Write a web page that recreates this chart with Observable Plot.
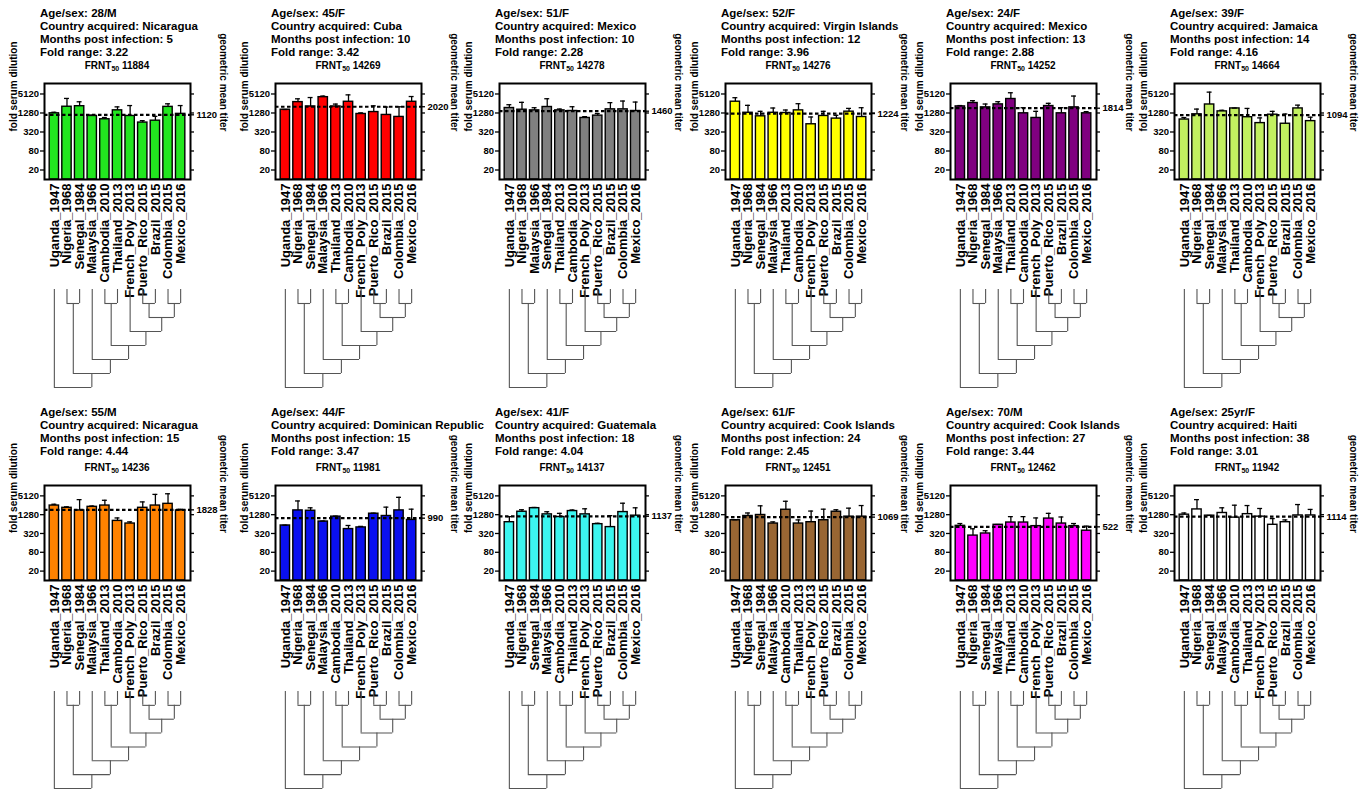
<!DOCTYPE html>
<html><head><meta charset="utf-8">
<script src="https://cdn.jsdelivr.net/npm/d3@7"></script>
<script src="https://cdn.jsdelivr.net/npm/@observablehq/plot@0.6"></script>
<style>
body{margin:0;background:#fff;}
#fig{position:relative;width:1368px;height:795px;overflow:hidden;background:#fff;font-family:"Liberation Sans",Arial,sans-serif;font-weight:bold;color:#000;}
.title{position:absolute;font-size:11.5px;line-height:13px;white-space:nowrap;}
.frnt{position:absolute;font-size:10px;line-height:13px;text-align:center;white-space:nowrap;}
.frnt sub{font-size:7px;vertical-align:-2px;line-height:0;}
.panel{position:absolute;}
.panel svg{overflow:visible;max-width:none;}
</style></head><body><div id="fig"></div>
<script>
// ---------- data ----------
const strainsA = ["Uganda_1947","Nigeria_1968","Senegal_1984","Malaysia_1966","Cambodia_2010","Thailand_2013","French_Poly_2013","Puerto_Rico_2015","Brazil_2015","Colombia_2015","Mexico_2016"];
const strainsB = ["Uganda_1947","Nigeria_1968","Senegal_1984","Malaysia_1966","Thailand_2013","Cambodia_2010","French_Poly_2013","Puerto_Rico_2015","Brazil_2015","Colombia_2015","Mexico_2016"];
const strainsC = ["Uganda_1947","Nigeria_1968","Malaysia_1966","Senegal_1984","Thailand_2013","Cambodia_2010","French_Poly_2013","Puerto_Rico_2015","Brazil_2015","Colombia_2015","Mexico_2016"];
const panelOrders = [strainsA, strainsB, strainsC, strainsB, strainsB, strainsB, strainsB, strainsA, strainsA, strainsA, strainsB, strainsA];

const ageSex = ["28/M","45/F","51/F","52/F","24/F","39/F","55/M","44/F","41/F","61/F","70/M","25yr/F"];
const countryAcquired = ["Nicaragua","Cuba","Mexico","Virgin Islands","Mexico","Jamaica","Nicaragua","Dominican Republic","Guatemala","Cook Islands","Cook Islands","Haiti"];
const monthsPostInfection = [5,10,10,12,13,14,15,15,18,24,27,38];
const foldRange = ["3.22","3.42","2.28","3.96","2.88","4.16","4.44","3.47","4.04","2.45","3.44","3.01"];
const frntId = ["11884","14269","14278","14276","14252","14664","14236","11981","14137","12451","12462","11942"];
const gmtTiter = [1120,2020,1460,1224,1814,1094,1828,990,1137,1069,522,1114];

const meanTiter = [
  [1250,2020,2100,1030,810,1555,1030,636,730,2000,1200],
  [1625,2830,2060,4060,2060,2900,1190,1370,1110,960,2900],
  [1840,1625,1550,1980,1550,1480,890,1055,1670,1670,1480],
  [2915,1300,1005,1300,1280,1550,562,1030,850,1410,956],
  [2070,2650,1930,2400,3550,1250,890,2125,1250,1930,1250],
  [795,1163,2380,1440,1785,940,612,1130,584,1785,707],
  [2510,2125,1750,2280,2510,810,666,2125,2510,2845,1750],
  [577,1755,1710,772,1108,443,500,1376,1162,1755,870],
  [735,1590,2070,1310,1080,1670,1310,636,512,1550,1190],
  [850,1162,1250,666,1840,666,735,850,1590,1108,1108],
  [563,274,320,607,718,718,550,960,666,550,393],
  [1280,1885,1190,1450,1030,1330,1108,607,735,1210,1210]
];
const upperTiter = [
  [1350,3700,2900,1100,920,2000,2200,730,1000,2500,2200],
  [1650,3600,3950,4400,2450,4800,1290,2160,1975,2010,4250],
  [2340,2780,1880,3620,1710,2020,980,1230,2720,3060,2840],
  [3900,2235,1445,1840,1590,2520,956,1445,1080,1790,1880],
  [2200,3140,2460,2915,5600,1880,1445,2590,1880,4400,1410],
  [918,1700,5860,1560,1830,1785,895,1440,1190,2270,940],
  [2760,2280,3880,2420,3700,1006,753,3280,5710,5980,1900],
  [590,3520,2125,800,1150,577,540,1430,2230,4600,1920],
  [1108,1840,2180,1590,1410,1810,1975,680,1190,2980,2125],
  [880,1450,2460,753,3440,870,1670,1920,1840,2070,2510],
  [666,453,393,620,1108,1108,1006,1410,1080,666,550],
  [1450,3880,1210,2125,2575,2510,2020,960,870,2700,1885]
];
const yTicks = [20,80,320,1280,5120];
// phylogeny of the 11 strains, by leaf position
const tree = [0, [[1, 2], [3, [[4, 5], [6, [[7, 8], [9, 10]]]]]]];

const barColors = ["#22e61f","#ff0000","#808080","#ffff00","#800080","#c2f060","#ff8200","#0a10f0","#3cf5f0","#996633","#ff00ff","#ffffff"];

// ---------- layout ----------
const frameLefts = [44, 275, 499, 725, 950, 1174];
const frameW = 146;
const rows = [
  {frameTop: 83, frameH: 96, titleTop: 6.5, frntTop: 58.5, treeTop: 289, treeBottom: 387},
  {frameTop: 485, frameH: 95, titleTop: 405.5, frntTop: 460.5, treeTop: 691, treeBottom: 788}
];
const mL = 44, mR = 50, mT = 5, mB = 125;
const padInner = 0.26, padOuter = 0.41;
const half = padOuter + (1 - padInner) / 2;
const fontFamily = '"Liberation Sans", Arial, sans-serif';

function treeSegments(node) {
  const vert = [], horiz = [];
  function rec(n) {
    if (typeof n === "number") return {x: n, h: 0};
    const [a, b] = n.map(rec);
    const h = Math.max(a.h, b.h) + 1;
    vert.push({x: a.x, y1: a.h, y2: h}, {x: b.x, y1: b.h, y2: h});
    horiz.push({y: h, x1: a.x, x2: b.x});
    return {x: (a.x + b.x) / 2, h};
  }
  const root = rec(node);
  return {vert, horiz, depth: root.h};
}
const segs = treeSegments(tree);

const fig = document.getElementById("fig");

function place(el, left, top) {
  const d = document.createElement("div");
  d.className = "panel";
  d.style.left = left + "px";
  d.style.top = top + "px";
  d.appendChild(el);
  fig.appendChild(d);
}

for (let p = 0; p < 12; p++) {
  const row = rows[Math.floor(p / 6)];
  const fl = frameLefts[p % 6];
  const order = panelOrders[p];
  const data = order.map((s, i) => ({strain: s, value: meanTiter[p][i], upper: upperTiter[p][i]}));
  const gmt = [gmtTiter[p]];

  // titles
  const t = document.createElement("div");
  t.className = "title";
  t.style.left = (fl - 4) + "px";
  t.style.top = row.titleTop + "px";
  t.innerHTML = `Age/sex: ${ageSex[p]}<br>Country acquired: ${countryAcquired[p]}<br>Months post infection: ${monthsPostInfection[p]}<br>Fold range: ${foldRange[p]}`;
  fig.appendChild(t);
  const f = document.createElement("div");
  f.className = "frnt";
  f.style.left = fl + "px";
  f.style.width = frameW + "px";
  f.style.top = row.frntTop + "px";
  f.innerHTML = `FRNT<sub>50</sub> ${frntId[p]}`;
  fig.appendChild(f);

  // bar chart
  const bars = Plot.plot({
    width: mL + frameW + mR,
    height: mT + row.frameH + mB,
    marginLeft: mL, marginRight: mR, marginTop: mT, marginBottom: mB,
    style: {background: "transparent", overflow: "visible", fontFamily, fontWeight: "bold", color: "black"},
    x: {type: "band", domain: order, paddingInner: padInner, paddingOuter: padOuter, round: false, axis: null, label: null},
    y: {type: "log", domain: [10, 11000], axis: null, label: null},
    marks: [
      Plot.barY(data, {x: "strain", y1: 10, y2: "value", fill: barColors[p], stroke: "black", strokeWidth: 1.4}),
      Plot.ruleX(data, {x: "strain", y1: "value", y2: "upper", stroke: "black", strokeWidth: 1.3}),
      Plot.tickY(data, {x: "strain", y: "upper", insetLeft: 2.2, insetRight: 2.2, stroke: "black", strokeWidth: 1.3}),
      Plot.ruleY(gmt, {y: d => d, stroke: "black", strokeWidth: 2.2, strokeDasharray: "3.5,2.5"}),
      Plot.frame({stroke: "black", strokeWidth: 2}),
      // left axis: outward ticks + labels
      Plot.ruleY(yTicks, {y: d => d, insetLeft: -4, insetRight: frameW, stroke: "black", strokeWidth: 1.3}),
      Plot.text(yTicks, {y: d => d, text: d => String(d), frameAnchor: "left", textAnchor: "end", dx: -5.5, fontSize: 9.5}),
      // right axis: outward ticks + geometric mean label
      Plot.ruleY(yTicks.concat(gmt), {y: d => d, insetLeft: frameW, insetRight: -4, stroke: "black", strokeWidth: 1.3}),
      Plot.text(gmt, {y: d => d, text: d => String(d), frameAnchor: "right", textAnchor: "start", dx: 6, fontSize: 9.5}),
      Plot.axisX({anchor: "bottom", tickSize: 0, tickPadding: 4, tickRotate: -90, fontSize: 13, label: null}),
      Plot.text(["fold serum dilution"], {text: d => d, frameAnchor: "left", rotate: -90, dx: -31, fontSize: 10}),
      Plot.text(["geometric mean titer"], {text: d => d, frameAnchor: "right", rotate: 90, dx: 33, fontSize: 10})
    ]
  });
  place(bars, fl - mL, row.frameTop - mT);

  // dendrogram
  const tmT = 2, tmB = 2;
  const dendro = Plot.plot({
    width: mL + frameW + mR,
    height: tmT + (row.treeBottom - row.treeTop) + tmB,
    marginLeft: mL, marginRight: mR, marginTop: tmT, marginBottom: tmB,
    style: {background: "transparent", overflow: "visible"},
    x: {domain: [-half, order.length - 1 + half], axis: null},
    y: {domain: [0, segs.depth], reverse: true, axis: null},
    marks: [
      Plot.ruleX(segs.vert, {x: "x", y1: "y1", y2: "y2", stroke: "#555", strokeWidth: 1.1}),
      Plot.ruleY(segs.horiz, {y: "y", x1: "x1", x2: "x2", stroke: "#555", strokeWidth: 1.1})
    ]
  });
  place(dendro, fl - mL, row.treeTop - tmT);
}
</script></body></html>
